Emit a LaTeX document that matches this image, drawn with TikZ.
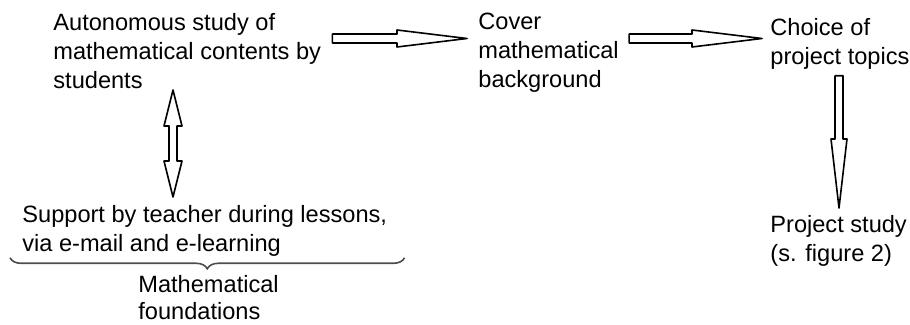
\documentclass[tikz,border=0pt]{standalone}
\usepackage{fontspec}
\setmainfont{Liberation Sans}
\usetikzlibrary{calc,decorations.pathreplacing,positioning}

\tikzset{
  txt/.style={font=\fontsize{11.8}{14.5}\selectfont,align=left,inner sep=0pt,anchor=north west},
  % hollow block arrow: half shaft, half head, head length
  blockarrow/.style n args={3}{draw,line width=0.8pt,line join=round,to path={
      ($(\tikztostart)!#1!90:(\tikztotarget)$)
      -- ($(\tikztotarget)!#3!(\tikztostart)!#1!90:(\tikztotarget)$)
      -- ($(\tikztotarget)!#3!(\tikztostart)!#2!90:(\tikztotarget)$)
      -- (\tikztotarget)
      -- ($(\tikztotarget)!#3!(\tikztostart)!#2!-90:(\tikztotarget)$)
      -- ($(\tikztotarget)!#3!(\tikztostart)!#1!-90:(\tikztotarget)$)
      -- ($(\tikztostart)!#1!-90:(\tikztotarget)$) -- cycle}},
  blockboth/.style n args={3}{draw,line width=0.8pt,line join=round,to path={
      ($(\tikztostart)!#3!(\tikztotarget)!#1!90:(\tikztotarget)$)
      -- ($(\tikztotarget)!#3!(\tikztostart)!#1!90:(\tikztotarget)$)
      -- ($(\tikztotarget)!#3!(\tikztostart)!#2!90:(\tikztotarget)$)
      -- (\tikztotarget)
      -- ($(\tikztotarget)!#3!(\tikztostart)!#2!-90:(\tikztotarget)$)
      -- ($(\tikztotarget)!#3!(\tikztostart)!#1!-90:(\tikztotarget)$)
      -- ($(\tikztostart)!#3!(\tikztotarget)!#1!-90:(\tikztotarget)$)
      -- ($(\tikztostart)!#3!(\tikztotarget)!#2!-90:(\tikztotarget)$)
      -- (\tikztostart)
      -- ($(\tikztostart)!#3!(\tikztotarget)!#2!90:(\tikztotarget)$) -- cycle}},
}

\begin{document}
\begin{tikzpicture}[x=0.5pt,y=-0.5pt]
\useasboundingbox (0,0) rectangle (910,325);

\node[txt] (auto) at (53,13) {Autonomous study of\\mathematical contents by\\students};
\node[txt] (cover) at (478,13) {Cover\\mathematical\\background};
\node[txt] (choice) at (770,18) {Choice of\\project topics};
\node[txt] (support) at (22,205) {Support by teacher during lessons,\\via e-mail and e-learning};
\node[txt] (project) at (770,215) {Project study\\(s. figure 2)};
\node[txt,font=\fontsize{11.8}{13.5}\selectfont] (found) at (138,275) {Mathematical\\foundations};

\draw[blockarrow={2.25pt}{4.25pt}{35pt}] ([shift={(11,25.5)}]auto.north east) to ([shift={(-11,25.5)}]cover.north west);
\draw[blockarrow={2.25pt}{4.25pt}{35pt}] ([shift={(10,25.5)}]cover.north east) to ([shift={(-8,20.5)}]choice.north west);
\draw[blockarrow={2pt}{4pt}{34.5pt}] ([shift={(69,6)}]choice.south west) to ([shift={(69,-7)}]project.north west);
\draw[blockboth={2pt}{4.5pt}{18pt}] ([shift={(120,77)}]auto.north west) to ([shift={(151,-8)}]support.north west);

\draw[decorate,decoration={brace,mirror,amplitude=5.5pt},line width=0.8pt,black!70]
  ([shift={(-12,1)}]support.south west) -- ([shift={(17,1)}]support.south east);
\end{tikzpicture}
\end{document}
